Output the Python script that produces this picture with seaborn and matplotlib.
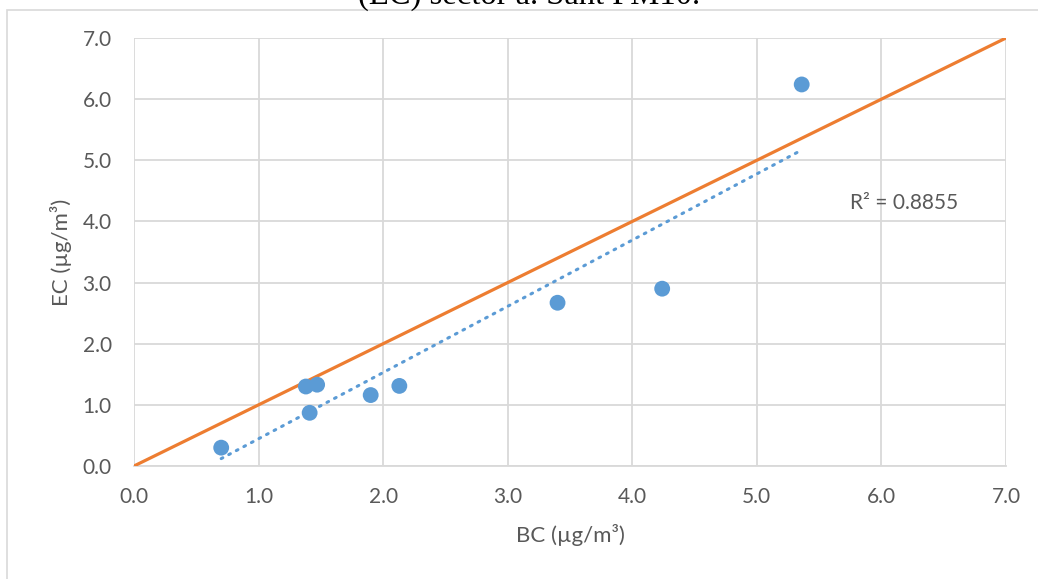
import numpy as np
import pandas as pd
import matplotlib.pyplot as plt
import seaborn as sns
from matplotlib.patches import Rectangle

# BC vs EC measurements (ug/m3)
bc = [0.70, 1.38, 1.47, 1.41, 1.90, 2.13, 3.40, 4.24, 5.36]
ec = [0.30, 1.30, 1.33, 0.87, 1.16, 1.31, 2.67, 2.90, 6.24]
one_to_one = [0.0, 7.0]
ticks = [0.0, 1.0, 2.0, 3.0, 4.0, 5.0, 6.0, 7.0]
r2_label = "R² = 0.8855"

df = pd.DataFrame({"BC": bc, "EC": ec})

sns.set_style("white")
plt.rcParams['font.family'] = ['Lato', 'DejaVu Sans']

grey = "#595959"
grid = "#d9d9d9"
blue = "#5B9BD5"
orange = "#ED7D31"

fig = plt.figure(figsize=(10.38, 5.79), dpi=100)
ax = fig.add_axes([134 / 1038, 1 - 466 / 579, (1006 - 134) / 1038, (466 - 38) / 579])

# 1:1 line
sns.lineplot(x=one_to_one, y=one_to_one, ax=ax, color=orange, linewidth=2.3, zorder=3)

# linear trend line (dotted)
sns.regplot(data=df, x="BC", y="EC", ax=ax, scatter=False, ci=None,
            line_kws=dict(color=blue, linestyle=(0, (0.6, 2.2)), linewidth=2.2,
                          dash_capstyle="round", zorder=2))

# points
sns.scatterplot(data=df, x="BC", y="EC", ax=ax, color=blue, s=130,
                edgecolor="none", zorder=4)

ax.set_xlim(0, 7)
ax.set_ylim(0, 7)
ax.set_xticks(ticks)
ax.set_yticks(ticks)
ax.set_xticklabels([f"{t:.1f}" for t in ticks])
ax.set_yticklabels([f"{t:.1f}" for t in ticks])
ax.tick_params(axis="both", colors=grey, labelsize=15, length=0)
ax.tick_params(axis="x", pad=15)
ax.tick_params(axis="y", pad=16)
ax.grid(True, color=grid, linewidth=1.3)
for s in ax.spines.values():
    s.set_visible(False)
ax.spines["bottom"].set_visible(True)
ax.spines["bottom"].set_color(grid)
ax.spines["bottom"].set_linewidth(1.3)

ax.set_xlabel("BC (µg/m³)", color=grey, fontsize=16, labelpad=12)
ax.set_ylabel("EC (µg/m³)", color=grey, fontsize=16, labelpad=8)

ax.text(5.75, 4.30, r2_label, color=grey, fontsize=15, va="center", ha="left")

# title cut off at the top of the picture
fig.text(0.5096, 1 - 4 / 579, "(EC) sector a. Sant PM10.", ha="center", va="baseline",
         fontsize=23.5, family="Liberation Serif", color="black")

# chart frame
fig.add_artist(Rectangle((7 / 1038, -0.1), 1.2, 1.1 - 10 / 579, transform=fig.transFigure,
                         fill=False, edgecolor=grid, linewidth=1.2))

fig.savefig("out.png", dpi=100)
